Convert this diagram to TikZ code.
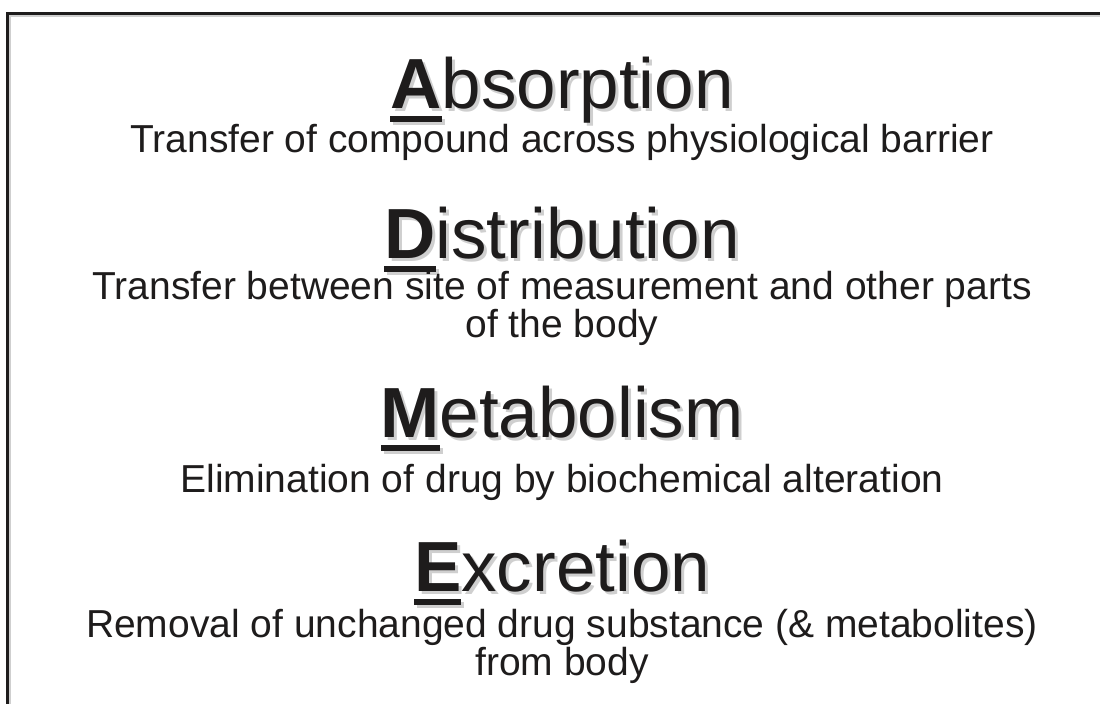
\documentclass[tikz,border=0pt]{standalone}
\usepackage{fontspec}
\setmainfont{Liberation Sans}
\usepackage{tikz}

\definecolor{inkdark}{HTML}{1E1C1C}
\definecolor{shadowgray}{HTML}{CFCFCF}

% letra inicial en negrita y subrayada
\newcommand{\keyletter}[1]{\setbox0\hbox{\bfseries #1}\rlap{\rule[-14pt]{\wd0}{6pt}}\box0}
% sombra suave detras del titulo
\newcommand{\shadowed}[1]{\rlap{\hspace{3pt}\raisebox{-3pt}{\color{shadowgray}#1}}#1}

\begin{document}
\begin{tikzpicture}[x=1pt, y=-1pt,
  title/.style={anchor=base, inner sep=0pt, text=inkdark, font=\fontsize{71}{71}\selectfont},
  desc/.style={anchor=base, inner sep=0pt, align=center, text=inkdark, font=\fontsize{39}{35}\selectfont}]
  \useasboundingbox (0,0) rectangle (1100,704);

  % Marco
  \draw[line width=1.5pt, shadowgray] (1100,16) -- (10,16) -- (10,704);
  \draw[line width=3pt, inkdark] (1100,13) -- (7,13) -- (7,704);

  % Absorcion
  \node[title] (absorption) at (562,108) {\shadowed{\keyletter{A}bsorption}};
  \node[desc] (absorptiondesc) at (562,152) {Transfer of compound across physiological barrier};

  % Distribucion (base = ultima linea)
  \node[title] (distribution) at (562,258) {\shadowed{\keyletter{D}istribution}};
  \node[desc] (distributiondesc) at (562,337) {Transfer between site of measurement and other parts\\of the body};

  % Metabolismo
  \node[title] (metabolism) at (562,437) {\shadowed{\keyletter{M}etabolism}};
  \node[desc] (metabolismdesc) at (562,492) {Elimination of drug by biochemical alteration};

  % Excrecion (base = ultima linea)
  \node[title] (excretion) at (562,591) {\shadowed{\keyletter{E}xcretion}};
  \node[desc] (excretiondesc) at (562,675) {Removal of unchanged drug substance (\& metabolites)\\from body};
\end{tikzpicture}
\end{document}
